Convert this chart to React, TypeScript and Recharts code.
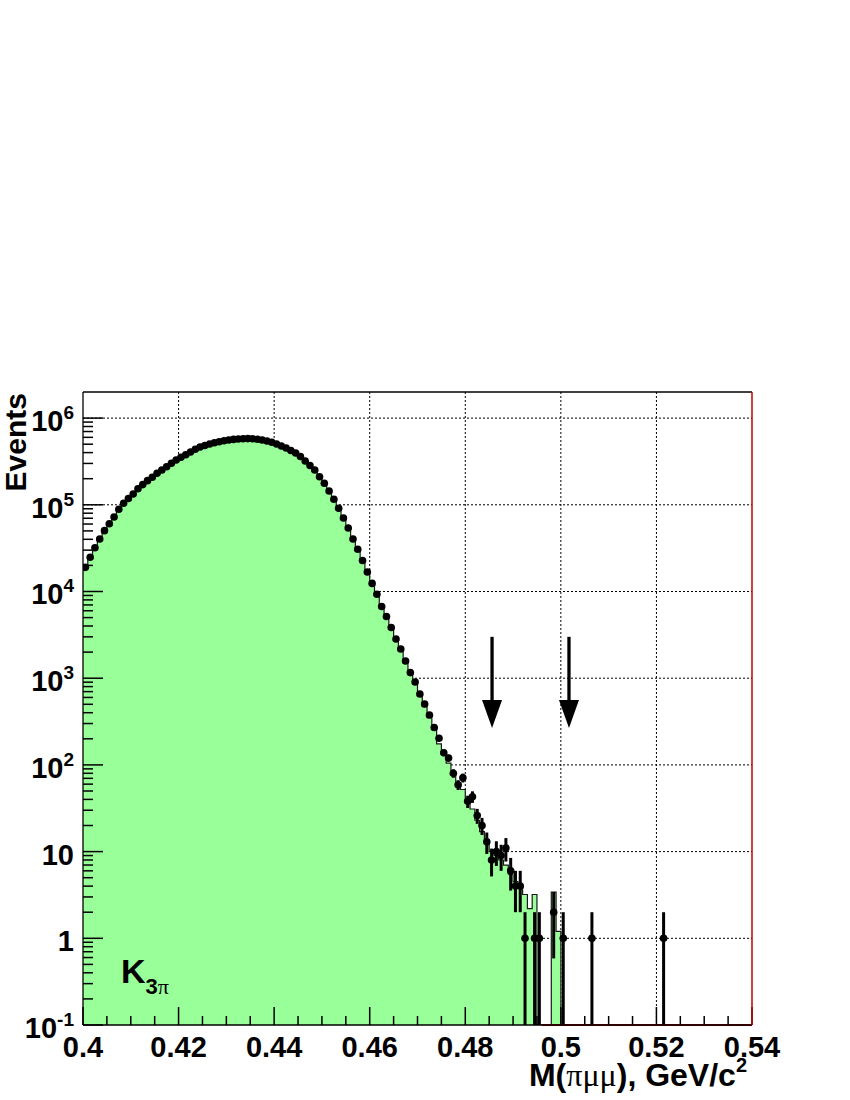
import React from 'react';
import {
  ComposedChart,
  Area,
  Scatter,
  ErrorBar,
  XAxis,
  YAxis,
  CartesianGrid,
  ReferenceLine,
  ReferenceDot,
} from 'recharts';

const BIN_START = 0.4;
const BIN_WIDTH = 0.001;
const X_MIN = 0.4;
const X_MAX = 0.54;
const Y_MIN = 0.1;
const Y_MAX = 2e6;

// observed events per 1 MeV bin, first bin starts at 0.400 GeV
const dataCounts = [
  19000, 24800, 32000, 40300, 50300, 60500, 72300, 88700, 104000, 118000,
  133000, 153000, 171000, 190000, 208000, 231000, 252000, 275000, 301000, 329000,
  353000, 378000, 407000, 437000, 464000, 483000, 503000, 519000, 534000, 547000,
  559000, 568000, 574000, 578000, 580000, 578000, 571000, 559000, 544000, 526000,
  503000, 476000, 452000, 423000, 396000, 361000, 320000, 284000, 252000, 211000,
  177000, 144000, 116000, 91100, 70500, 54000, 40300, 30700, 22800, 16800,
  12400, 9290, 6710, 5150, 3850, 2830, 2170, 1580, 1160, 904,
  657, 504, 376, 270, 203, 138, 120, 80, 59, 71,
  38, 43, 26, 20, 13, 8, 10, 9, 11, 6,
  4, 4, 1, 0, 1, 1, 0, 0, 2, 0,
  1, 0, 0, 0, 0, 0, 1, 0, 0, 0,
  0, 0, 0, 0, 0, 0, 0, 0, 0, 0,
  0, 1,
];

// simulated K3pi expectation, same binning
const mcCounts = [
  18800, 24600, 31800, 40000, 50000, 60200, 72500, 87500, 103000, 118000,
  134000, 152000, 170000, 189000, 208000, 230000, 251000, 275000, 300000, 327000,
  352000, 378000, 405000, 434000, 462000, 482000, 501000, 518000, 533000, 546000,
  557000, 566000, 573000, 577000, 578000, 576000, 570000, 558000, 542000, 524000,
  501000, 475000, 450000, 421000, 393000, 358000, 318000, 281000, 248000, 208000,
  174000, 141000, 113000, 89000, 69000, 52500, 39300, 29800, 22000, 16200,
  11900, 8900, 6450, 4900, 3680, 2700, 2060, 1500, 1100, 850,
  620, 470, 350, 255, 175, 140, 105, 82, 62, 52,
  40, 31, 23, 17, 13, 10, 9, 8, 7, 5.5,
  4.5, 4, 3.2, 2.2, 3.2, 0, 0, 0, 3.4, 1.2,
];

const xMajorTicks = [0.4, 0.42, 0.44, 0.46, 0.48, 0.5, 0.52, 0.54];
const xMajorLabels = ['0.4', '0.42', '0.44', '0.46', '0.48', '0.5', '0.52', '0.54'];
const xMinorTicks = [
  0.405, 0.41, 0.415, 0.425, 0.43, 0.435, 0.445, 0.45, 0.455, 0.465, 0.47,
  0.475, 0.485, 0.49, 0.495, 0.505, 0.51, 0.515, 0.525, 0.53, 0.535,
];
const xGridValues = [0.42, 0.44, 0.46, 0.48, 0.5, 0.52];

const yMajorTicks = [0.1, 1, 10, 100, 1e3, 1e4, 1e5, 1e6];
const yMajorLabels: [string, string][] = [
  ['10', '-1'], ['1', ''], ['10', ''], ['10', '2'], ['10', '3'], ['10', '4'], ['10', '5'], ['10', '6'],
];
const yMinorTicks = [
  0.2, 0.3, 0.4, 0.5, 0.6, 0.7, 0.8, 0.9,
  2, 3, 4, 5, 6, 7, 8, 9,
  20, 30, 40, 50, 60, 70, 80, 90,
  200, 300, 400, 500, 600, 700, 800, 900,
  2e3, 3e3, 4e3, 5e3, 6e3, 7e3, 8e3, 9e3,
  2e4, 3e4, 4e4, 5e4, 6e4, 7e4, 8e4, 9e4,
  2e5, 3e5, 4e5, 5e5, 6e5, 7e5, 8e5, 9e5,
];
const yGridValues = [1, 10, 100, 1e3, 1e4, 1e5, 1e6];

// signal window markers
const arrowX = [0.4856, 0.5017];
const ARROW_TOP = 3000;
const ARROW_BASE = 560;
const ARROW_TIP = 267;

const RED_FROM = 0.496;

const FONT = '"Liberation Sans", Arial, Helvetica, sans-serif';
const SERIF = '"Liberation Serif", "DejaVu Serif", serif';
const GREEN = '#99ff99';

const edge = (i: number) => Number((BIN_START + i * BIN_WIDTH).toFixed(4));

const mcData = [
  ...mcCounts.map((v, i) => ({ x: edge(i), mc: Math.max(v, Y_MIN) })),
  { x: edge(mcCounts.length), mc: Y_MIN },
  { x: X_MAX, mc: Y_MIN },
];

const pointData = dataCounts
  .map((n, i) => {
    const s = Math.sqrt(n);
    const low = Math.max(n - s, Y_MIN);
    return { x: Number((BIN_START + (i + 0.5) * BIN_WIDTH).toFixed(5)), y: n, err: [n - low, s] };
  })
  .filter((p) => p.y > 0);

// tick marks pointing into the frame, drawn as short pieces of reference lines
const xTickShape = (len: number) => (p: any) => {
  const bottom = Math.max(p.y1, p.y2);
  return <line x1={p.x1} x2={p.x1} y1={bottom} y2={bottom - len} stroke="#000" strokeWidth={1.5} />;
};
const yTickShape = (len: number) => (p: any) => {
  const left = Math.min(p.x1, p.x2);
  return <line x1={left} x2={left + len} y1={p.y1} y2={p.y1} stroke="#000" strokeWidth={1.5} />;
};

const XLabel = (props: any) => {
  const { x, y, payload } = props;
  const idx = xMajorTicks.indexOf(payload.value);
  if (idx < 0) return <g />;
  return (
    <text x={x} y={y + 32} textAnchor="middle" fontFamily={FONT} fontWeight="bold" fontSize={29} fill="#000">
      {xMajorLabels[idx]}
    </text>
  );
};

const YLabel = (props: any) => {
  const { x, y, payload } = props;
  const idx = yMajorTicks.indexOf(payload.value);
  if (idx < 0) return <g />;
  const [base, exp] = yMajorLabels[idx];
  return (
    <text x={x - 9} y={y + 13} textAnchor="end" fontFamily={FONT} fontWeight="bold" fontSize={29} fill="#000">
      <tspan>{base}</tspan>
      {exp ? (
        <tspan dy={-12} fontSize={19}>
          {exp}
        </tspan>
      ) : null}
    </text>
  );
};

const ArrowHead = (props: any) => {
  const { cx, cy } = props;
  return <polygon points={`${cx},${cy} ${cx - 10},${cy - 28} ${cx + 10},${cy - 28}`} fill="#000" />;
};

export default function App() {
  return (
    <div style={{ position: 'relative', width: 850, height: 1100, background: '#fff' }}>
      <style>{'body{margin:0}'}</style>
      <ComposedChart width={850} height={1100} margin={{ top: 391, right: 97, bottom: 74, left: 82 }}>
        <CartesianGrid
          stroke="#000"
          strokeDasharray="2 2"
          strokeWidth={1}
          verticalValues={xGridValues}
          horizontalValues={yGridValues}
        />

        <XAxis
          xAxisId={0}
          dataKey="x"
          type="number"
          domain={[X_MIN, X_MAX]}
          ticks={xMajorTicks}
          interval={0}
          allowDataOverflow
          height={1}
          tickSize={0}
          tickMargin={0}
          tickLine={false}
          axisLine={{ stroke: '#000', strokeWidth: 1.3 }}
          tick={<XLabel />}
        />
        <XAxis
          xAxisId="top"
          orientation="top"
          dataKey="x"
          type="number"
          domain={[X_MIN, X_MAX]}
          allowDataOverflow
          height={1}
          tick={false}
          tickLine={false}
          axisLine={{ stroke: '#000', strokeWidth: 1.3 }}
        />

        <YAxis
          yAxisId={0}
          scale="log"
          type="number"
          domain={[Y_MIN, Y_MAX]}
          ticks={yMajorTicks}
          interval={0}
          allowDataOverflow
          width={1}
          tickSize={0}
          tickMargin={0}
          tickLine={false}
          axisLine={{ stroke: '#000', strokeWidth: 1.3 }}
          tick={<YLabel />}
        />
        <YAxis
          yAxisId="right"
          orientation="right"
          scale="log"
          type="number"
          domain={[Y_MIN, Y_MAX]}
          allowDataOverflow
          width={1}
          tick={false}
          tickLine={false}
          axisLine={{ stroke: '#c00000', strokeWidth: 1.5 }}
        />

        <Area
          data={mcData}
          dataKey="mc"
          type="stepAfter"
          baseValue={Y_MIN}
          fill={GREEN}
          fillOpacity={1}
          stroke="#1a1a1a"
          strokeWidth={1.2}
          isAnimationActive={false}
        />

        <ReferenceLine
          segment={[{ x: RED_FROM, y: Y_MIN }, { x: X_MAX, y: Y_MIN }]}
          stroke="#c00000"
          strokeWidth={2}
        />

        {xMajorTicks.map((v) => (
          <ReferenceLine key={`xM-${v}`} x={v} stroke="#000" shape={xTickShape(18)} />
        ))}
        {xMinorTicks.map((v) => (
          <ReferenceLine key={`xm-${v}`} x={v} stroke="#000" shape={xTickShape(9)} />
        ))}
        {yMajorTicks.map((v) => (
          <ReferenceLine key={`yM-${v}`} y={v} stroke="#000" shape={yTickShape(20)} />
        ))}
        {yMinorTicks.map((v) => (
          <ReferenceLine key={`ym-${v}`} y={v} stroke="#000" shape={yTickShape(10)} />
        ))}

        <Scatter
          data={pointData}
          dataKey="y"
          fill="#000"
          isAnimationActive={false}
          shape={(p: any) => <circle cx={p.cx} cy={p.cy} r={3.8} fill="#000" />}
        >
          <ErrorBar dataKey="err" direction="y" width={0} stroke="#000" strokeWidth={3} isAnimationActive={false} />
        </Scatter>

        {arrowX.map((ax) => (
          <ReferenceLine
            key={`shaft-${ax}`}
            segment={[{ x: ax, y: ARROW_TOP }, { x: ax, y: ARROW_BASE }]}
            stroke="#000"
            strokeWidth={3.3}
          />
        ))}
        {arrowX.map((ax) => (
          <ReferenceDot key={`head-${ax}`} x={ax} y={ARROW_TIP} r={1} shape={<ArrowHead />} />
        ))}
      </ComposedChart>

      <svg width={850} height={1100} style={{ position: 'absolute', left: 0, top: 0, pointerEvents: 'none' }}>
        <text
          x={26}
          y={393}
          transform="rotate(-90 26 393)"
          textAnchor="end"
          fontFamily={FONT}
          fontWeight="bold"
          fontSize={30}
          fill="#000"
        >
          Events
        </text>
        <text x={747} y={1086} textAnchor="end" fontFamily={FONT} fontWeight="bold" fontSize={32} fill="#000">
          <tspan>M(</tspan>
          <tspan fontFamily={SERIF} fontWeight="normal">πμμ</tspan>
          <tspan>), GeV/c</tspan>
          <tspan dy={-14} fontSize={20}>2</tspan>
        </text>
        <text x={121} y={983} fontFamily={FONT} fontWeight="bold" fontSize={34} fill="#000">
          <tspan>K</tspan>
          <tspan dy={11} fontSize={22}>3</tspan>
          <tspan fontSize={22} fontFamily={SERIF} fontWeight="normal">π</tspan>
        </text>
      </svg>
    </div>
  );
}
